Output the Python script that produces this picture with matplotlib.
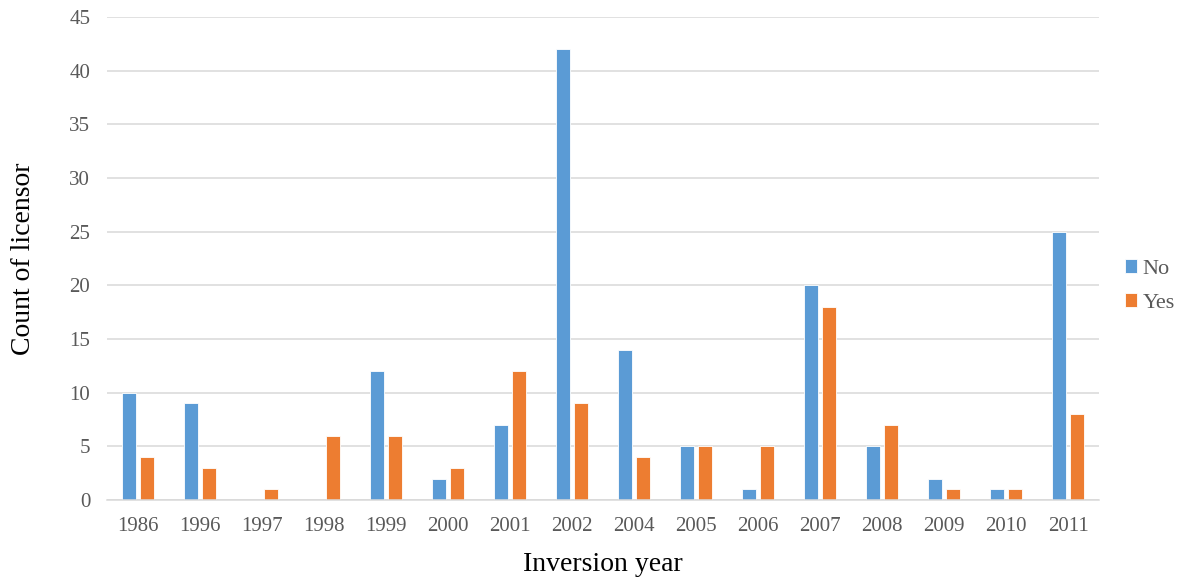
import numpy as np
import matplotlib.pyplot as plt

plt.rcParams['font.family'] = ['Liberation Serif', 'DejaVu Serif']

years = ["1986", "1996", "1997", "1998", "1999", "2000", "2001", "2002",
         "2004", "2005", "2006", "2007", "2008", "2009", "2010", "2011"]
no_counts = [10, 9, 0, 0, 12, 2, 7, 42, 14, 5, 1, 20, 5, 2, 1, 25]
yes_counts = [4, 3, 1, 6, 6, 3, 12, 9, 4, 5, 5, 18, 7, 1, 1, 8]

blue = "#5B9BD5"
orange = "#ED7D31"
grid = "#D9D9D9"
tick_grey = "#595959"

fig = plt.figure(figsize=(11.83, 5.78), dpi=100)
ax = fig.add_axes([0.0904, 0.135, 0.8386, 0.8356])

x = np.arange(len(years))
w = 0.235
ax.bar(x - 0.145, no_counts, w, color=blue, edgecolor="white", linewidth=0.6,
       label="No", zorder=3)
ax.bar(x + 0.145, yes_counts, w, color=orange, edgecolor="white", linewidth=0.6,
       label="Yes", zorder=3)

ax.set_xlim(-0.5, len(years) - 0.5)
ax.set_ylim(0, 45)
ax.set_yticks(range(0, 46, 5))
ax.set_xticks(x)
ax.set_xticklabels(years)
ax.yaxis.grid(True, color=grid, linewidth=1.1, zorder=0)
ax.set_axisbelow(True)

for side in ["top", "right", "left"]:
    ax.spines[side].set_visible(False)
ax.spines["bottom"].set_color(grid)
ax.spines["bottom"].set_linewidth(1.1)
ax.spines["bottom"].set_zorder(4)

ax.tick_params(axis="both", length=0, labelsize=15, colors=tick_grey)
ax.tick_params(axis="y", pad=12)
ax.tick_params(axis="x", pad=12)

ax.set_xlabel("Inversion year", fontsize=20, labelpad=12)
ax.set_ylabel("Count of licensor", fontsize=20, labelpad=24)

leg = ax.legend(loc="center left", bbox_to_anchor=(1.006, 0.443), frameon=False,
                fontsize=16, handlelength=0.55, handleheight=0.55,
                handletextpad=0.25, labelspacing=0.65)
for t in leg.get_texts():
    t.set_color(tick_grey)

fig.savefig("out.png", dpi=100)
